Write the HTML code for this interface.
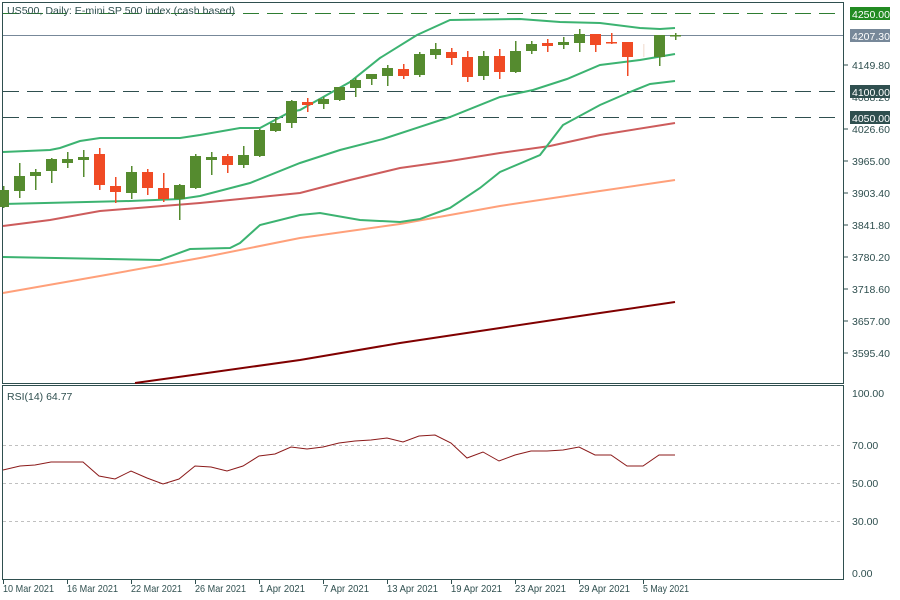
<!DOCTYPE html>
<html><head><meta charset="utf-8"><style>
body{margin:0;background:#fff;}
svg{display:block;font-family:"Liberation Sans",sans-serif;font-size:10.5px;}
</style></head><body>
<svg width="900" height="600" viewBox="0 0 900 600" xmlns="http://www.w3.org/2000/svg">
<rect width="900" height="600" fill="#fff"/>
<g stroke="#2f4f4f" fill="none" stroke-width="1">
<rect x="2.5" y="2.5" width="841" height="381"/>
<rect x="2.5" y="385.5" width="841" height="194"/>
</g>
<g stroke="#c0c0c0" stroke-dasharray="3,3">
<line x1="3" y1="445.5" x2="843" y2="445.5"/>
<line x1="3" y1="483.5" x2="843" y2="483.5"/>
<line x1="3" y1="521.5" x2="843" y2="521.5"/>
</g>
<line x1="3" y1="13.5" x2="843" y2="13.5" stroke="#2e7d32" stroke-dasharray="16,8"/>
<line x1="3" y1="35.5" x2="843" y2="35.5" stroke="#778899"/>
<line x1="3" y1="91.5" x2="843" y2="91.5" stroke="#2f4f4f" stroke-dasharray="16,8"/>
<line x1="3" y1="117.5" x2="843" y2="117.5" stroke="#2f4f4f" stroke-dasharray="16,8"/>
<g fill="none" stroke-width="2">
<polyline stroke="#800000" points="135,383 200,374 300,360 400,343 500,328 600,313 675,302"/>
<polyline stroke="#ffa07a" points="3,293 100,276 200,258 300,238 400,224 500,206 600,191 675,180"/>
<polyline stroke="#cd5c5c" points="3,226 50,220 100,211 200,203 300,193 350,180 400,168 450,161 500,153 550,146 600,135 675,123"/>
<polyline stroke="#3cb371" points="3,152 50,150 60,148 80,141 100,138 180,138 200,135 240,128 260,128 290,112 300,110 350,82 380,58 417,35 450,20 520,19 560,22 600,23 640,28 660,29 675,28"/>
<polyline stroke="#3cb371" points="3,204 130,201 180,199 200,196 250,183 300,163 340,150 383,139 450,117 500,97 533,90 567,79 600,65 640,60 675,54"/>
<polyline stroke="#3cb371" points="3,257 160,260 190,249 230,248 240,243 260,225 300,215 320,213 360,220 400,222 420,219 450,208 480,188 500,172 540,155 563,125 600,105 630,92 650,84 675,81"/>
</g>
<g fill="#558b2f">
<rect x="3" y="186" width="1.5" height="22"/><rect x="-2" y="190" width="11" height="17"/>
<rect x="19" y="163" width="1.5" height="35"/><rect x="14" y="176" width="11" height="15"/>
<rect x="35" y="169" width="1.5" height="21"/><rect x="30" y="172" width="11" height="4"/>
<rect x="51" y="158" width="1.5" height="25"/><rect x="46" y="159" width="11" height="12"/>
<rect x="67" y="152" width="1.5" height="16"/><rect x="62" y="159" width="11" height="4"/>
<rect x="83" y="150" width="1.5" height="27"/><rect x="78" y="157" width="11" height="3"/>
<rect x="131" y="166" width="1.5" height="33"/><rect x="126" y="172" width="11" height="21"/>
<rect x="179" y="184" width="1.5" height="36"/><rect x="174" y="185" width="11" height="14"/>
<rect x="195" y="154" width="1.5" height="35"/><rect x="190" y="156" width="11" height="32"/>
<rect x="211" y="152" width="1.5" height="23"/><rect x="206" y="157" width="11" height="3"/>
<rect x="243" y="146" width="1.5" height="22"/><rect x="238" y="155" width="11" height="10"/>
<rect x="259" y="129" width="1.5" height="28"/><rect x="254" y="130" width="11" height="26"/>
<rect x="275" y="118" width="1.5" height="14"/><rect x="270" y="123" width="11" height="8"/>
<rect x="291" y="100" width="1.5" height="28"/><rect x="286" y="101" width="11" height="22"/>
<rect x="323" y="97" width="1.5" height="12"/><rect x="318" y="99" width="11" height="5"/>
<rect x="339" y="87" width="1.5" height="14"/><rect x="334" y="87" width="11" height="13"/>
<rect x="355" y="78" width="1.5" height="19"/><rect x="350" y="80" width="11" height="8"/>
<rect x="371" y="74" width="1.5" height="11"/><rect x="366" y="74" width="11" height="5"/>
<rect x="387" y="65" width="1.5" height="21"/><rect x="382" y="68" width="11" height="8"/>
<rect x="419" y="52" width="1.5" height="25"/><rect x="414" y="54" width="11" height="21"/>
<rect x="435" y="43" width="1.5" height="16"/><rect x="430" y="49" width="11" height="6"/>
<rect x="483" y="51" width="1.5" height="29"/><rect x="478" y="56" width="11" height="20"/>
<rect x="515" y="41" width="1.5" height="32"/><rect x="510" y="51" width="11" height="21"/>
<rect x="531" y="41" width="1.5" height="13"/><rect x="526" y="44" width="11" height="7"/>
<rect x="563" y="37" width="1.5" height="12"/><rect x="558" y="42" width="11" height="3"/>
<rect x="579" y="29" width="1.5" height="23"/><rect x="574" y="34" width="11" height="9"/>
<rect x="659" y="35" width="1.5" height="31"/><rect x="654" y="35" width="11" height="22"/>
<rect x="675" y="33" width="1.5" height="7"/><rect x="670" y="35" width="11" height="1.5"/>
</g>
<g fill="#f04a24">
<rect x="99" y="148" width="1.5" height="42"/><rect x="94" y="154" width="11" height="31"/>
<rect x="115" y="177" width="1.5" height="26"/><rect x="110" y="186" width="11" height="6"/>
<rect x="147" y="169" width="1.5" height="26"/><rect x="142" y="172" width="11" height="16"/>
<rect x="163" y="173" width="1.5" height="29"/><rect x="158" y="188" width="11" height="11"/>
<rect x="227" y="154" width="1.5" height="19"/><rect x="222" y="156" width="11" height="9"/>
<rect x="307" y="98" width="1.5" height="14"/><rect x="302" y="102" width="11" height="3"/>
<rect x="403" y="64" width="1.5" height="15"/><rect x="398" y="69" width="11" height="7"/>
<rect x="451" y="48" width="1.5" height="17"/><rect x="446" y="52" width="11" height="6"/>
<rect x="467" y="51" width="1.5" height="31"/><rect x="462" y="57" width="11" height="20"/>
<rect x="499" y="49" width="1.5" height="30"/><rect x="494" y="56" width="11" height="16"/>
<rect x="547" y="39" width="1.5" height="13"/><rect x="542" y="43" width="11" height="3"/>
<rect x="595" y="34" width="1.5" height="18"/><rect x="590" y="34" width="11" height="11"/>
<rect x="611" y="33" width="1.5" height="11"/><rect x="606" y="42" width="11" height="1.5"/>
<rect x="627" y="42" width="1.5" height="34"/><rect x="622" y="42" width="11" height="15"/>
</g>
<rect x="643" y="44" width="1.5" height="13" fill="#f5e6dc"/>
<polyline fill="none" stroke="#8b1a1a" stroke-width="1" points="3,470 20,466 35,465 51,462 67,462 83,462 99,476 115,479 131,471 147,478 163,484 179,479 195,466 211,467 227,471 243,466 259,456 275,454 291,447 307,449 323,447 339,443 355,441 371,440 387,438 403,442 419,436 435,435 451,443 467,458 483,452 499,461 515,455 531,451 547,451 563,450 579,447 595,455 611,455 627,466 643,466 659,455 675,455"/>
<g fill="#2f4f4f">
<text x="7" y="14" textLength="228" lengthAdjust="spacingAndGlyphs">US500, Daily:  E-mini SP 500 index (cash based)</text>
<text x="7" y="400">RSI(14) 64.77</text>
</g>
<g fill="#2f4f4f">
<text x="852" y="69">4149.80</text>
<text x="852" y="101">4088.20</text>
<text x="852" y="133">4026.60</text>
<text x="852" y="165">3965.00</text>
<text x="852" y="197">3903.40</text>
<text x="852" y="229">3841.80</text>
<text x="852" y="261">3780.20</text>
<text x="852" y="293">3718.60</text>
<text x="852" y="325">3657.00</text>
<text x="852" y="357">3595.40</text>
<text x="852" y="397">100.00</text>
<text x="852" y="449">70.00</text>
<text x="852" y="487">50.00</text>
<text x="852" y="525">30.00</text>
<text x="852" y="577">0.00</text>
</g>
<g stroke="#2f4f4f">
<line x1="843" y1="65" x2="848" y2="65"/><line x1="843" y1="129" x2="848" y2="129"/><line x1="843" y1="161" x2="848" y2="161"/><line x1="843" y1="193" x2="848" y2="193"/><line x1="843" y1="225" x2="848" y2="225"/><line x1="843" y1="257" x2="848" y2="257"/><line x1="843" y1="289" x2="848" y2="289"/><line x1="843" y1="321" x2="848" y2="321"/><line x1="843" y1="353" x2="848" y2="353"/>
</g>
<rect x="850" y="7" width="40" height="13" fill="#228b22"/><text x="852" y="18" fill="#fff">4250.00</text>
<rect x="850" y="29" width="40" height="13" fill="#778899"/><text x="852" y="40" fill="#fff">4207.30</text>
<rect x="850" y="85" width="40" height="13" fill="#2f4f4f"/><text x="852" y="96" fill="#fff">4100.00</text>
<rect x="850" y="111" width="40" height="13" fill="#2f4f4f"/><text x="852" y="122" fill="#fff">4050.00</text>
<g fill="#2f4f4f">
<text x="3" y="592" textLength="51" lengthAdjust="spacingAndGlyphs">10 Mar 2021</text>
<text x="67" y="592" textLength="51" lengthAdjust="spacingAndGlyphs">16 Mar 2021</text>
<text x="131" y="592" textLength="51" lengthAdjust="spacingAndGlyphs">22 Mar 2021</text>
<text x="195" y="592" textLength="51" lengthAdjust="spacingAndGlyphs">26 Mar 2021</text>
<text x="259" y="592" textLength="46" lengthAdjust="spacingAndGlyphs">1 Apr 2021</text>
<text x="323" y="592" textLength="46" lengthAdjust="spacingAndGlyphs">7 Apr 2021</text>
<text x="387" y="592" textLength="51" lengthAdjust="spacingAndGlyphs">13 Apr 2021</text>
<text x="451" y="592" textLength="51" lengthAdjust="spacingAndGlyphs">19 Apr 2021</text>
<text x="515" y="592" textLength="51" lengthAdjust="spacingAndGlyphs">23 Apr 2021</text>
<text x="579" y="592" textLength="51" lengthAdjust="spacingAndGlyphs">29 Apr 2021</text>
<text x="643" y="592" textLength="46" lengthAdjust="spacingAndGlyphs">5 May 2021</text>
</g>
<g stroke="#2f4f4f"><line x1="3.5" y1="580" x2="3.5" y2="584"/><line x1="67.5" y1="580" x2="67.5" y2="584"/><line x1="131.5" y1="580" x2="131.5" y2="584"/><line x1="195.5" y1="580" x2="195.5" y2="584"/><line x1="259.5" y1="580" x2="259.5" y2="584"/><line x1="323.5" y1="580" x2="323.5" y2="584"/><line x1="387.5" y1="580" x2="387.5" y2="584"/><line x1="451.5" y1="580" x2="451.5" y2="584"/><line x1="515.5" y1="580" x2="515.5" y2="584"/><line x1="579.5" y1="580" x2="579.5" y2="584"/><line x1="643.5" y1="580" x2="643.5" y2="584"/></g>
</svg>
</body></html>
